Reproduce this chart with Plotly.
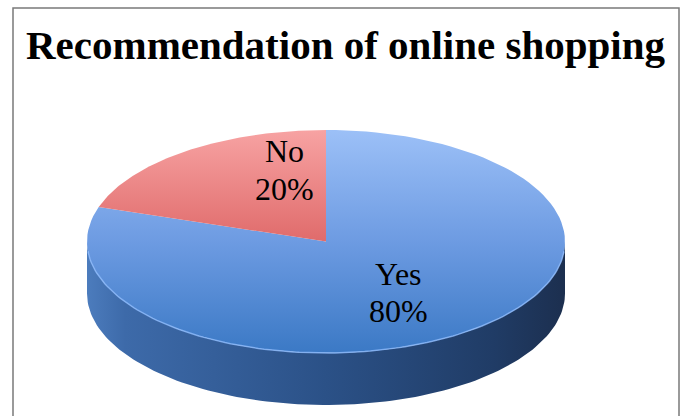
import numpy as np
import plotly.graph_objects as go

# ---- data ----
categories = ["Yes", "No"]
percent = [80, 20]
title_text = "Recommendation of online shopping"

# ---- geometry / style ----
W, H = 692, 416
cx, cy, rx, ry, depth = 326, 241.5, 239, 111.5, 52

top_scales = {
    "Yes": [[0, "#9cc0f7"], [0.5, "#6d9be2"], [1, "#3b79c5"]],
    "No": [[0, "#f7a3a3"], [0.5, "#e06b6b"], [1, "#bf3838"]],
}
wall_scales = {
    "Yes": [[0, "#4c7cbd"], [0.08, "#3d6aa9"], [0.5, "#2b5187"], [0.85, "#203c66"], [1, "#1c2f4f"]],
    "No": [[0, "#a83030"], [1, "#6a1c1c"]],
}
label_pos = {"Yes": (398, 273.5, 310.5), "No": (284, 151, 188.5)}

fracs = np.array(percent, dtype=float) / sum(percent)
ends = np.cumsum(fracs) * 360
starts = ends - fracs * 360


def arc(a0, a1, dy=0.0, n=120):
    a = np.radians(np.linspace(a0, a1, n))
    return cx + rx * np.sin(a), cy - ry * np.cos(a) + dy


fig = go.Figure()

# side walls (visible front half: 90..270 deg clockwise from 12 o'clock)
for cat, s, e in zip(categories, starts, ends):
    a0, a1 = max(s, 90), min(e, 270)
    if a1 <= a0:
        continue
    xt, yt = arc(a0, a1)
    xb, yb = arc(a1, a0, depth)
    fig.add_trace(go.Scatter(
        x=np.concatenate([xt, xb, xt[:1]]), y=np.concatenate([yt, yb, yt[:1]]),
        mode="lines", line=dict(width=0), fill="toself",
        fillgradient=dict(type="horizontal", colorscale=wall_scales[cat],
                          start=cx - rx, stop=cx + rx),
        hoverinfo="skip", showlegend=False))

# top faces
for cat, s, e in zip(categories, starts, ends):
    xs, ys = arc(s, e)
    fig.add_trace(go.Scatter(
        x=np.concatenate([[cx], xs, [cx]]), y=np.concatenate([[cy], ys, [cy]]),
        mode="lines", line=dict(width=0), fill="toself",
        fillgradient=dict(type="vertical", colorscale=top_scales[cat],
                          start=cy - ry, stop=cy + ry),
        hoverinfo="skip", showlegend=False))

# rim highlight on front edge
xr, yr = arc(95, 265)
fig.add_trace(go.Scatter(x=xr, y=yr, mode="lines",
                         line=dict(color="rgba(140,185,250,0.8)", width=1.5),
                         hoverinfo="skip", showlegend=False))

annotations = [dict(text=f"<b>{title_text}</b>", x=346, y=45, xref="x", yref="y",
                    showarrow=False, xanchor="center", yanchor="middle",
                    font=dict(family="Liberation Serif", size=41, color="#000"))]
for cat, p in zip(categories, percent):
    lx, y1, y2 = label_pos[cat]
    for txt, yy in ((cat, y1), (f"{p}%", y2)):
        annotations.append(dict(text=txt, x=lx, y=yy, xref="x", yref="y",
                                showarrow=False, xanchor="center", yanchor="middle",
                                font=dict(family="Liberation Serif", size=32, color="#000")))

fig.update_layout(
    width=W, height=H, margin=dict(l=0, r=0, t=0, b=0),
    paper_bgcolor="white", plot_bgcolor="white",
    xaxis=dict(range=[0, W], visible=False, fixedrange=True),
    yaxis=dict(range=[H, 0], visible=False, fixedrange=True),
    annotations=annotations,
    shapes=[dict(type="rect", x0=13, x1=679, y0=8, y1=H + 10, xref="x", yref="y",
                 line=dict(color="#7a7a7a", width=1.5), layer="below")],
)

fig.write_html("out.html", config={"displayModeBar": False})
